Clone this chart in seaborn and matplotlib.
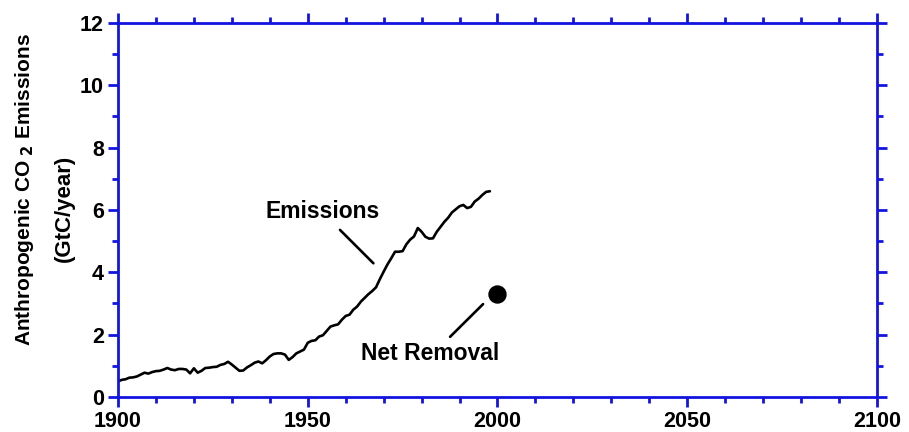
import numpy as np
import pandas as pd
import matplotlib
matplotlib.use("Agg")
import matplotlib.pyplot as plt
from matplotlib.ticker import MultipleLocator
import seaborn as sns

# annual anthropogenic CO2 emissions (GtC/year)
years = list(range(1900, 1999))
emissions = [
    0.50, 0.55, 0.57, 0.62, 0.63, 0.66, 0.72, 0.78, 0.75, 0.80,
    0.83, 0.84, 0.88, 0.93, 0.88, 0.86, 0.90, 0.90, 0.88, 0.76,
    0.92, 0.78, 0.84, 0.93, 0.94, 0.96, 0.97, 1.03, 1.06, 1.13,
    1.04, 0.94, 0.84, 0.85, 0.95, 1.02, 1.10, 1.14, 1.08, 1.18,
    1.30, 1.38, 1.40, 1.40, 1.36, 1.19, 1.28, 1.40, 1.46, 1.52,
    1.74, 1.80, 1.82, 1.94, 1.98, 2.12, 2.26, 2.30, 2.33, 2.48,
    2.60, 2.64, 2.80, 2.90, 3.06, 3.18, 3.30, 3.40, 3.52, 3.78,
    4.02, 4.25, 4.45, 4.66, 4.66, 4.68, 4.90, 5.05, 5.15, 5.42,
    5.30, 5.14, 5.08, 5.09, 5.30, 5.46, 5.62, 5.75, 5.92, 6.02,
    6.12, 6.16, 6.06, 6.10, 6.27, 6.36, 6.48, 6.58, 6.60,
]
removal_year = [2000]
removal_value = [3.3]

BLUE = "#1414e0"

sns.set_theme(style="ticks")
plt.rcParams["font.family"] = ["Liberation Sans", "DejaVu Sans"]
plt.rcParams["font.weight"] = "bold"
plt.rcParams["mathtext.default"] = "bf"
plt.rcParams["text.color"] = "black"
plt.rcParams["axes.labelcolor"] = "black"

df = pd.DataFrame({"year": years, "emissions": emissions})
removal = pd.DataFrame({"year": removal_year, "value": removal_value})

fig = plt.figure(figsize=(9.09, 4.32), dpi=100)
ax = fig.add_axes([0.1298, 0.081, 0.835, 0.866])

sns.lineplot(data=df, x="year", y="emissions", ax=ax, color="black", linewidth=1.9)
sns.scatterplot(data=removal, x="year", y="value", ax=ax, color="black", s=150,
                edgecolor="black", zorder=5)

ax.set_xlim(1900, 2100)
ax.set_ylim(0, 12)
ax.xaxis.set_major_locator(MultipleLocator(50))
ax.xaxis.set_minor_locator(MultipleLocator(10))
ax.yaxis.set_major_locator(MultipleLocator(2))
ax.yaxis.set_minor_locator(MultipleLocator(1))

for side in ax.spines.values():
    side.set_color(BLUE)
    side.set_linewidth(2.0)
ax.tick_params(which="both", direction="out", color=BLUE, width=2.0,
               top=True, right=True, labelsize=15.5, labelcolor="black", pad=3)
ax.tick_params(which="major", length=7)
ax.tick_params(which="minor", length=4.5)
for lab in ax.get_xticklabels() + ax.get_yticklabels():
    lab.set_fontweight("bold")

ax.set_xlabel("")
ax.set_ylabel("")
# the two label lines are offset from each other in the original
fig.text(25 / 909, 1 - 190 / 432, "Anthropogenic CO$_{\\ 2}$ Emissions",
         rotation=90, fontsize=15, fontweight="bold", ha="center", va="center")
fig.text(64 / 909, 1 - 208 / 432, "(GtC/year)",
         rotation=90, fontsize=16, fontweight="bold", ha="center", va="center")

# annotations
ax.text(1954, 5.94, "Emissions", fontsize=16.5, fontweight="bold",
        ha="center", va="center")
ax.plot([1958.5, 1967.3], [5.36, 4.29], color="black", linewidth=1.9)
ax.text(1982.2, 1.40, "Net Removal", fontsize=16.5, fontweight="bold",
        ha="center", va="center")
ax.plot([1987.5, 1996.2], [1.93, 2.98], color="black", linewidth=1.9)

fig.savefig("out.png", dpi=100)
